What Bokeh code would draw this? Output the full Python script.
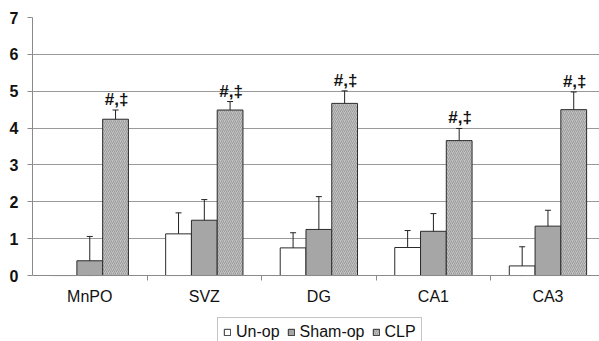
from bokeh.plotting import figure
from bokeh.models import (ColumnDataSource, Range1d, FixedTicker, Whisker, TeeHead,
                          Legend, LegendItem)
from bokeh.core.properties import value
from bokeh.embed import file_html
from bokeh.resources import INLINE

categories = ["MnPO", "SVZ", "DG", "CA1", "CA3"]
series_names = ["Un-op", "Sham-op", "CLP"]
unop = [0.0, 1.13, 0.75, 0.76, 0.26]
unop_err = [0.0, 0.57, 0.41, 0.46, 0.52]
sham = [0.40, 1.50, 1.25, 1.20, 1.34]
sham_err = [0.66, 0.56, 0.89, 0.48, 0.43]
clp = [4.24, 4.49, 4.67, 3.66, 4.50]
clp_err = [0.25, 0.23, 0.34, 0.33, 0.48]
marks = ["#,‡", "#,‡", "#,‡", "#,‡", "#,‡"]
y_ticks = [0, 1, 2, 3, 4, 5, 6, 7]

FONT = "Liberation Sans"
BAR_W = 0.225
offsets = [-BAR_W, 0.0, BAR_W]
styles = [
    dict(fill_color="white"),
    dict(fill_color="#a6a6a6"),
    dict(fill_color="#c2c2c2", hatch_pattern="right_diagonal_line",
         hatch_color="#909090", hatch_scale=4, hatch_weight=0.8),
]

# frame spans the full height so the legend (below the axis) is inside it
Y_MIN = -1.79
p = figure(width=599, height=341, output_backend="svg", toolbar_location=None,
           x_range=Range1d(0, 4.95), y_range=Range1d(Y_MIN, 7),
           min_border_left=32, min_border_right=0, min_border_top=17,
           min_border_bottom=0)
p.outline_line_color = None
p.background_fill_color = "white"
p.border_fill_color = "white"

centers = [i + 0.5 for i in range(len(categories))]
renderers = []
for vals, errs, off, st in zip([unop, sham, clp], [unop_err, sham_err, clp_err], offsets, styles):
    xs = [c + off for c in centers]
    src = ColumnDataSource(dict(x=xs, top=vals))
    r = p.vbar(x="x", top="top", bottom=0, width=BAR_W, source=src, line_color="#2b2b2b",
               line_width=1, **st)
    renderers.append(r)
    keep = [k for k in range(len(vals)) if errs[k] > 0]
    esrc = ColumnDataSource(dict(
        x=[xs[k] for k in keep],
        upper=[vals[k] + errs[k] for k in keep],
        lower=[max(0.0, vals[k] - errs[k]) for k in keep]))
    w = Whisker(source=esrc, base="x", upper="upper", lower="lower",
                line_color="#222222", line_width=1,
                upper_head=TeeHead(size=6, line_color="#222222", line_width=1),
                lower_head=TeeHead(size=6, line_color="#222222", line_width=1))
    p.add_layout(w)

clp_x = [c + offsets[2] for c in centers]
tsrc = ColumnDataSource(dict(x=clp_x, y=[v + e for v, e in zip(clp, clp_err)], t=marks))
p.text(x="x", y="y", text="t", source=tsrc, text_align="center",
       text_baseline="bottom", x_offset=1, y_offset=-1, text_font=value(FONT),
       text_font_size="17px", text_font_style="bold", text_color="#111111")

# grid
p.xgrid.visible = False
p.ygrid.ticker = FixedTicker(ticks=y_ticks)
p.ygrid.grid_line_color = "#9a9a9a"
p.ygrid.grid_line_width = 1

# y axis
ya = p.yaxis[0]
ya.ticker = FixedTicker(ticks=y_ticks)
ya.bounds = (y_ticks[0], y_ticks[-1])
ya.axis_line_color = "#8a8a8a"
ya.major_tick_line_color = "#8a8a8a"
ya.major_tick_out = 5
ya.major_tick_in = 0
ya.minor_tick_line_color = None
ya.major_label_standoff = 9
ya.major_label_text_font = FONT
ya.major_label_text_font_size = "16px"
ya.major_label_text_font_style = "bold"
ya.major_label_text_color = "#111111"

# x axis, drawn at y = 0 inside the frame
xa = p.xaxis[0]
xa.fixed_location = 0
xa.ticker = FixedTicker(ticks=centers, minor_ticks=[1, 2, 3, 4])
xa.major_label_overrides = {c: n for c, n in zip(centers, categories)}
xa.axis_line_color = "#8a8a8a"
xa.major_tick_line_color = None
xa.major_tick_out = 0
xa.major_tick_in = 0
xa.minor_tick_line_color = "#8a8a8a"
xa.minor_tick_out = 5
xa.minor_tick_in = 0
xa.major_label_standoff = 7
xa.major_label_text_font = FONT
xa.major_label_text_font_size = "16px"
xa.major_label_text_color = "#111111"

legend = Legend(items=[LegendItem(label=n, renderers=[r]) for n, r in zip(series_names, renderers)],
                orientation="horizontal", location=(185, -6),
                label_text_font=FONT, label_text_font_size="16px",
                label_text_color="#111111", glyph_width=8, glyph_height=8,
                label_standoff=5, spacing=7, padding=5, margin=0,
                border_line_color="#8a8a8a", border_line_width=1,
                background_fill_alpha=1.0)
p.add_layout(legend, "center")

open("out.html", "w").write(file_html(p, INLINE))
